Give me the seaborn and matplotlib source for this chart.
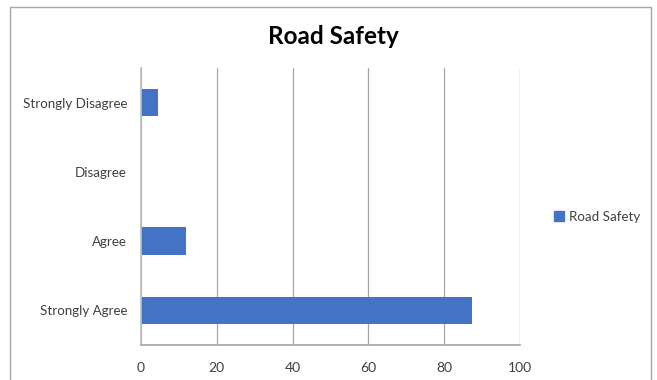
import matplotlib
matplotlib.use("Agg")
import matplotlib.pyplot as plt
import seaborn as sns
import pandas as pd
from matplotlib.patches import Rectangle
from matplotlib.lines import Line2D
from matplotlib.ticker import FixedLocator

categories = ["Strongly Disagree", "Disagree", "Agree", "Strongly Agree"]
values = [4.6, 0.0, 12.0, 87.4]
series_name = "Road Safety"
x_ticks = [0, 20, 40, 60, 80, 100]

sns.set_theme(style="white")
plt.rcParams["font.family"] = ["Lato", "DejaVu Sans"]

df = pd.DataFrame({"response": categories, "value": values})

fig = plt.figure(figsize=(6.57, 3.80), dpi=100)
ax = fig.add_axes([141 / 657, 1 - 345 / 380, 379 / 657, 277 / 380])

bar_color = "#4472C4"
sns.barplot(data=df, y="response", x="value", order=categories, color=bar_color,
            width=0.4, ax=ax, saturation=1, linewidth=0)

ax.set_xlim(0, 100)
ax.set_ylim(3.5, -0.5)
ax.set_xticks(x_ticks)
ax.set_xticklabels([str(t) for t in x_ticks], fontsize=10, color="#404040")
ax.set_xlabel("")
ax.set_ylabel("")
ax.tick_params(axis="y", length=0, labelsize=9.6, labelcolor="#404040", pad=10)
ax.yaxis.set_minor_locator(FixedLocator([-0.5, 0.5, 1.5, 2.5, 3.5]))
ax.tick_params(axis="y", which="minor", length=4, color="#BFBFBF", width=1, direction="out")
ax.tick_params(axis="x", length=4, color="#BFBFBF", width=1, direction="out", pad=8)

ax.grid(axis="x", color="#A6A6A6", linewidth=0.9)
ax.set_axisbelow(True)
for side in ["top", "right"]:
    ax.spines[side].set_visible(False)
ax.spines["left"].set_color("#BFBFBF")
ax.spines["bottom"].set_color("#A6A6A6")

fig.text(333 / 657, 1 - 36 / 380, "Road Safety", ha="center", va="center",
         fontsize=17.5, fontweight="bold", color="black")

handle = Line2D([], [], marker="s", linestyle="none", markersize=7,
                markerfacecolor=bar_color, markeredgecolor=bar_color)
fig.legend([handle], [series_name], loc="center left",
           bbox_to_anchor=(553 / 657, 1 - 217 / 380), frameon=False,
           fontsize=9.6, handlelength=0.9, handletextpad=0.3,
           borderpad=0, borderaxespad=0, labelcolor="#404040")

fig.patches.append(Rectangle((10 / 657, -0.05), 641 / 657, 1.05 - 7 / 380,
                             transform=fig.transFigure, fill=False,
                             edgecolor="#A6A6A6", linewidth=1))

fig.savefig("out.png", dpi=100)
